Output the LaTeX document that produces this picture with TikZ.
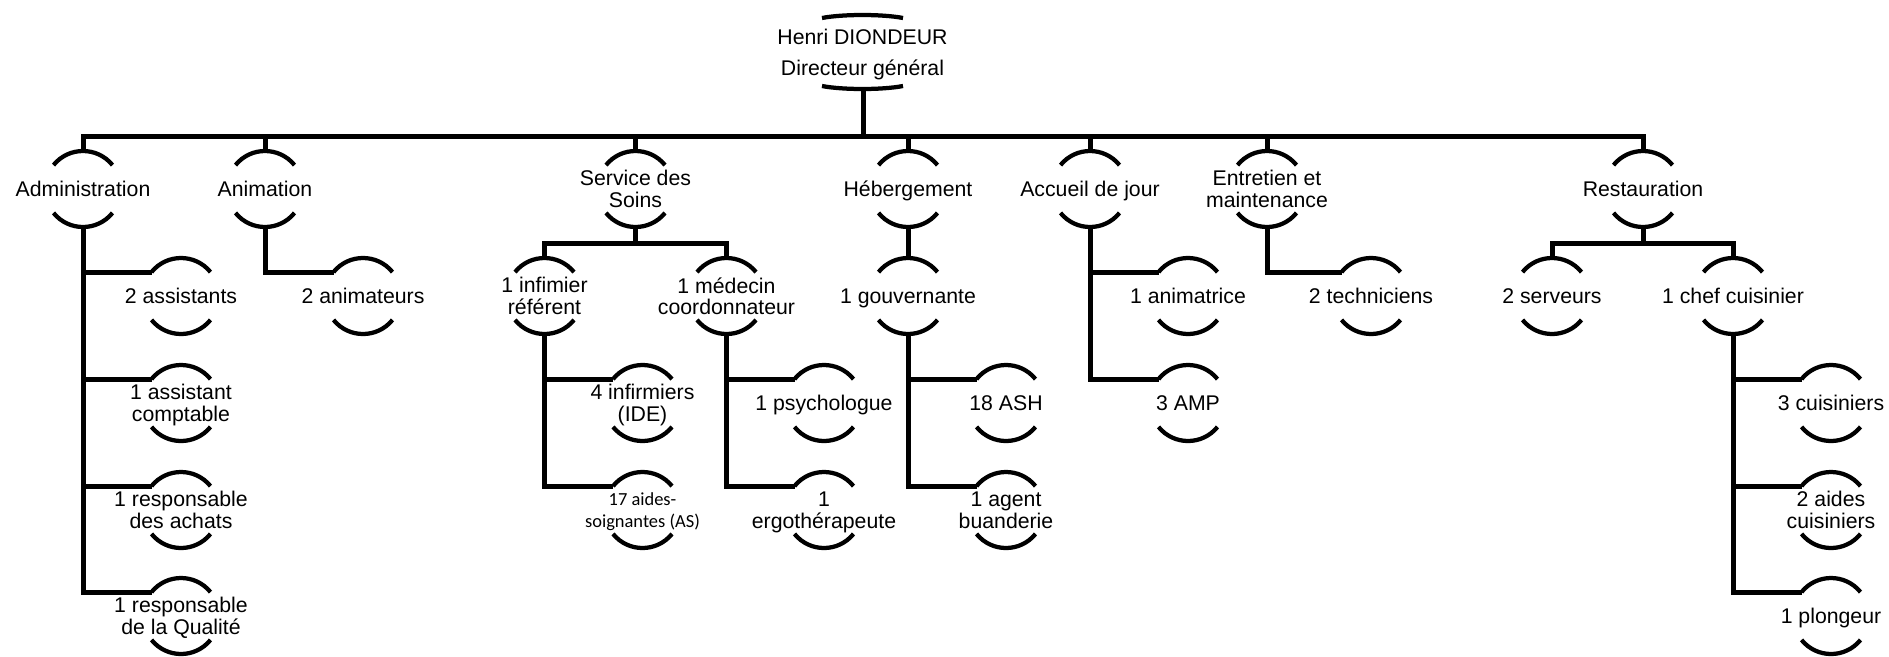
\documentclass[tikz,border=0pt]{standalone}
\usepackage{fontspec}
\setmainfont{Liberation Sans}
\newfontfamily\calfont{Carlito}
\usetikzlibrary{calc}
\tikzset{
  lbl/.style={inner sep=0pt, align=center, text depth=0pt, font=\fontsize{12.1}{12.3}\selectfont},
  lblsmall/.style={inner sep=0pt, align=center, text depth=0pt, font=\calfont\fontsize{10.5}{12.5}\selectfont},
  lbltop/.style={inner sep=0pt, align=center, text depth=0pt, font=\fontsize{12.1}{17.6}\selectfont},
  conn/.style={line width=0.1cm, line join=miter},
  arcst/.style={line width=0.085cm},
}
\newcommand\unitnode[5][lbl]{%
  \node[#1] (#2) at (#3,#4) {#5};
  \draw[arcst] ($(#2.center)+(-29.5,-23.9)$) .. controls ($(#2.center)+(-14.3,-42.7)$) and ($(#2.center)+(14.3,-42.7)$) .. ($(#2.center)+(29.5,-23.9)$);
  \draw[arcst] ($(#2.center)+(-29.5,23.9)$) .. controls ($(#2.center)+(-14.3,42.7)$) and ($(#2.center)+(14.3,42.7)$) .. ($(#2.center)+(29.5,23.9)$);
  \coordinate (#2-top) at ($(#2.center)+(0,-38)$);
  \coordinate (#2-bot) at ($(#2.center)+(0,38)$);
  \coordinate (#2-tl) at ($(#2.center)+(-29.5,-23.9)$);
}
\begin{document}
\begin{tikzpicture}[x=0.02cm,y=-0.02cm]
\useasboundingbox (0,0) rectangle (1889,656);
\fill[white] (0,0) rectangle (1889,656);

% top node
\node[lbltop] (dir) at (862.5,52.5) {Henri DIONDEUR\\Directeur général};
\draw[arcst] ($(dir.center)+(-40.5,-34.5)$) .. controls ($(dir.center)+(-20,-38.5)$) and ($(dir.center)+(20,-38.5)$) .. ($(dir.center)+(40.5,-34.5)$);
\draw[arcst] ($(dir.center)+(-40.5,33.5)$) .. controls ($(dir.center)+(-20,37.5)$) and ($(dir.center)+(20,37.5)$) .. ($(dir.center)+(40.5,33.5)$);
\coordinate (dir-bot) at ($(dir.center)+(0.5,36.5)$);

% level 1
\unitnode{adm}{83}{189}{Administration}
\unitnode{ani}{265}{189}{Animation}
\unitnode{soi}{635.5}{189}{Service des\\Soins}
\unitnode{heb}{908}{189}{Hébergement}
\unitnode{acc}{1090}{189}{Accueil de jour}
\unitnode{ent}{1267}{189}{Entretien et\\maintenance}
\unitnode{res}{1643}{189}{Restauration}

% row 2
\unitnode{inf}{544.5}{296}{1 infimier\\référent}
\unitnode{med}{726.5}{296}{1 médecin\\coordonnateur}
\unitnode{gou}{908}{296}{1 gouvernante}
\unitnode{ser}{1552}{296}{2 serveurs}
\unitnode{chef}{1733}{296}{1 chef cuisinier}
\unitnode{asst}{181}{296}{2 assistants}
\unitnode{anim}{363}{296}{2 animateurs}
\unitnode{anm}{1188}{296}{1 animatrice}
\unitnode{tec}{1371}{296}{2 techniciens}

% row 3
\unitnode{acpt}{181}{403}{1 assistant\\comptable}
\unitnode{ide}{642.5}{403}{4 infirmiers\\(IDE)}
\unitnode{psy}{824}{403}{1 psychologue}
\unitnode{ash}{1006}{403}{18 ASH}
\unitnode{amp}{1188}{403}{3 AMP}
\unitnode{cuis}{1831}{403}{3 cuisiniers}

% row 4
\unitnode{ach}{181}{510}{1 responsable\\des achats}
\unitnode[lblsmall]{aso}{642.5}{510}{17 aides-\\soignantes (AS)}
\unitnode{erg}{824}{510}{1\\ergothérapeute}
\unitnode{bua}{1006}{510}{1 agent\\buanderie}
\unitnode{aid}{1831}{510}{2 aides\\cuisiniers}

% row 5
\unitnode{qua}{181}{616}{1 responsable\\de la Qualité}
\unitnode{plo}{1831}{616}{1 plongeur}

% bus lines
\coordinate (bus) at (0,136);
\coordinate (sbus) at (0,243);
\draw[conn] (dir-bot) -- (dir-bot |- bus);
\draw[conn] (adm-top) -- (adm-top |- bus) -- (res-top |- bus) -- (res-top);
\foreach \n in {ani,soi,heb,acc,ent}{\draw[conn] (\n-top) -- (\n-top |- bus);}

% Soins
\draw[conn] (soi-bot) -- (soi-bot |- sbus);
\draw[conn] (inf-top) -- (inf-top |- sbus) -- (med-top |- sbus) -- (med-top);
% Restauration
\draw[conn] (res-bot) -- (res-bot |- sbus);
\draw[conn] (ser-top) -- (ser-top |- sbus) -- (chef-top |- sbus) -- (chef-top);
% Hebergement
\draw[conn] (heb-bot) -- (gou-top);

% side children
\draw[conn] (adm-bot) |- (qua-tl);
\draw[conn] (adm-bot |- asst-tl) -- (asst-tl);
\draw[conn] (adm-bot |- acpt-tl) -- (acpt-tl);
\draw[conn] (adm-bot |- ach-tl) -- (ach-tl);
\draw[conn] (ani-bot) |- (anim-tl);
\draw[conn] (acc-bot) |- (amp-tl);
\draw[conn] (acc-bot |- anm-tl) -- (anm-tl);
\draw[conn] (ent-bot) |- (tec-tl);
\draw[conn] (inf-bot) |- (aso-tl);
\draw[conn] (inf-bot |- ide-tl) -- (ide-tl);
\draw[conn] (med-bot) |- (erg-tl);
\draw[conn] (med-bot |- psy-tl) -- (psy-tl);
\draw[conn] (gou-bot) |- (bua-tl);
\draw[conn] (gou-bot |- ash-tl) -- (ash-tl);
\draw[conn] (chef-bot) |- (plo-tl);
\draw[conn] (chef-bot |- cuis-tl) -- (cuis-tl);
\draw[conn] (chef-bot |- aid-tl) -- (aid-tl);
\end{tikzpicture}
\end{document}
